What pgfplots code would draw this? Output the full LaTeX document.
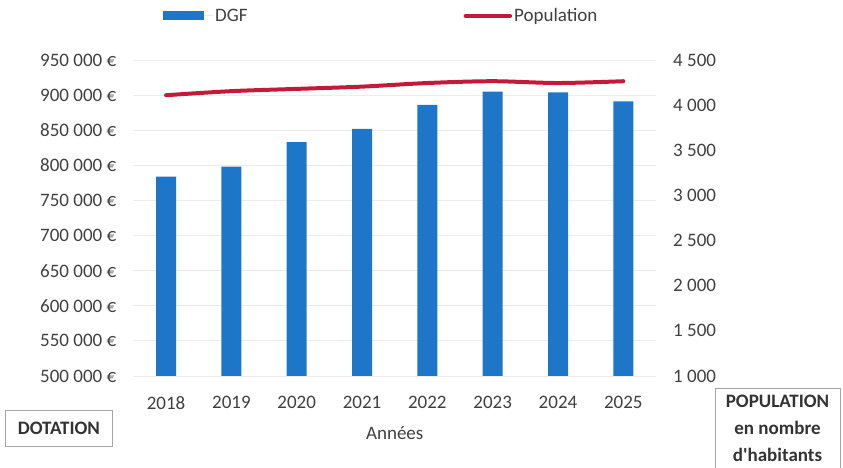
\documentclass[border=0pt]{standalone}
\usepackage{pgfplots}
\pgfplotsset{compat=1.18}
\usepackage{fontspec}
\setmainfont{Carlito}
\definecolor{dgfblue}{RGB}{30,118,200}
\definecolor{popred}{RGB}{196,26,58}
\definecolor{txt}{RGB}{64,64,64}

\begin{document}
\begin{tikzpicture}[font=\fontsize{19bp}{22bp}\selectfont]
\useasboundingbox (0,0) rectangle (843bp,468bp);
% DGF (left axis)
\begin{axis}[
  at={(133.4bp,92bp)}, anchor=south west,
  scale only axis, width=522.6bp, height=316bp,
  xmin=-0.5, xmax=7.5, ymin=500000, ymax=950000,
  ybar, bar width=20bp,
  scaled y ticks=false,
  xtick={0,1,2,3,4,5,6,7},
  xticklabels={2018,2019,2020,2021,2022,2023,2024,2025},
  ytick={500000,550000,600000,650000,700000,750000,800000,850000,900000,950000},
  yticklabels={500~000~€,550~000~€,600~000~€,650~000~€,700~000~€,750~000~€,800~000~€,850~000~€,900~000~€,950~000~€},
  axis line style={draw=none}, major tick length=0pt, tick style={draw=none},
  ymajorgrids, grid style={gray!15, line width=0.8bp},
  yticklabel style={anchor=east, inner sep=0pt, xshift=-17bp, text=txt},
  xticklabel style={anchor=north, inner sep=0pt, yshift=-20bp, text=txt},
  xlabel={Années},
  xlabel style={at={(rel axis cs:0.5,0)}, anchor=center, yshift=-57bp, inner sep=0pt, text=txt},
  legend columns=2,
  legend style={draw=none, fill=none, at={(rel axis cs:0,1)}, anchor=west,
    xshift=29.6bp, yshift=44bp, inner sep=0pt, text=txt,
    /tikz/every even column/.append style={column sep=214bp}},
]
\addplot[fill=dgfblue, draw=none, bar shift=0pt,
  legend image code/.code={\fill[dgfblue] (0bp,-4.5bp) rectangle (41bp,4.5bp);
    \path (0bp,0bp) -- (50bp,0bp);}]
  coordinates {(0,784000) (1,798000) (2,833000) (3,852000) (4,886000) (5,905000) (6,904000) (7,891000)};
\addlegendentry{DGF}
\addlegendimage{popred, line width=4.5bp, line cap=round,
  legend image code/.code={\draw (2bp,0bp) -- (40bp,0bp); \path (0bp,0bp) -- (44bp,0bp);}}
\addlegendentry{Population}
\end{axis}
% Population (right axis)
\begin{axis}[
  at={(133.4bp,92bp)}, anchor=south west,
  scale only axis, width=522.6bp, height=316bp,
  xmin=-0.5, xmax=7.5, ymin=1000, ymax=4500,
  hide x axis, axis y line*=right,
  y axis line style={draw=none}, major tick length=0pt, tick style={draw=none},
  ytick={1000,1500,2000,2500,3000,3500,4000,4500},
  yticklabels={1~000,1~500,2~000,2~500,3~000,3~500,4~000,4~500},
  yticklabel style={anchor=west, inner sep=0pt, xshift=17bp, text=txt},
]
\addplot[popred, line width=4bp, line cap=round, smooth]
  coordinates {(0,4110) (1,4155) (2,4180) (3,4205) (4,4245) (5,4265) (6,4245) (7,4265)};
\end{axis}
% side captions
\node[draw=gray!70, line width=0.8bp, minimum width=107bp, minimum height=36bp,
  anchor=north west, inner sep=0pt, font=\fontsize{19bp}{22bp}\selectfont\bfseries, text=black!80]
  at (5bp,58bp) {DOTATION};
\draw[gray!70, line width=0.8bp] (715bp,-5bp) rectangle (840bp,80bp);
\node[anchor=north, align=center, inner sep=0pt, text=black!80,
  font=\fontsize{19bp}{27bp}\selectfont\bfseries]
  at (777.5bp,73bp) {POPULATION\\en nombre\\d\textquotesingle habitants};
\end{tikzpicture}
\end{document}
